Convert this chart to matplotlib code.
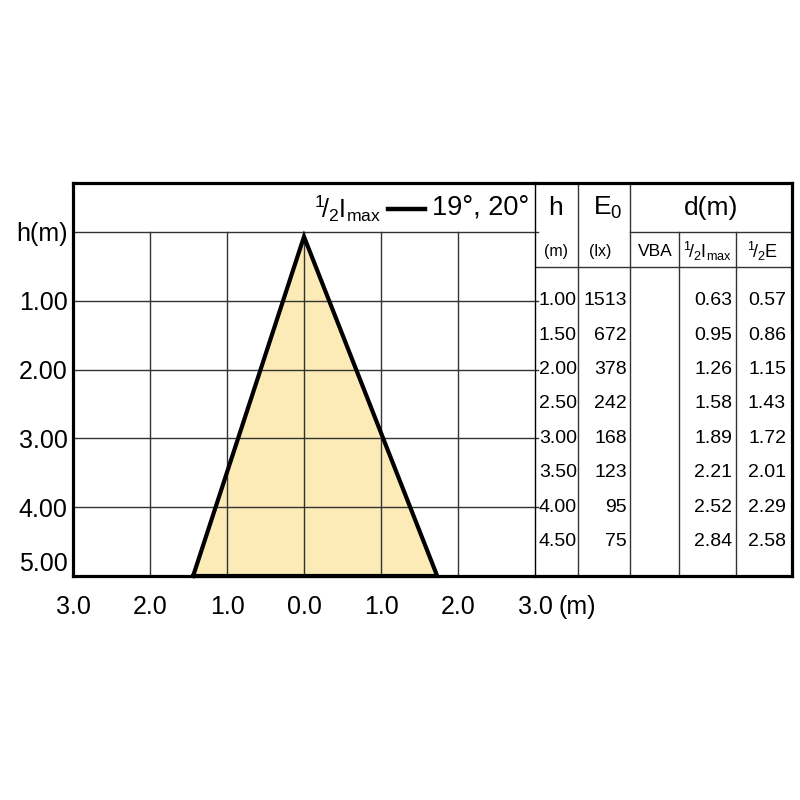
import matplotlib
matplotlib.use("Agg")
import matplotlib.pyplot as plt

plt.rcParams['font.family'] = ['Liberation Sans', 'DejaVu Sans']
plt.rcParams['mathtext.fontset'] = 'custom'
plt.rcParams['mathtext.rm'] = 'Liberation Sans'
plt.rcParams['mathtext.it'] = 'Liberation Sans:italic'
plt.rcParams['mathtext.bf'] = 'Liberation Sans:bold'

# beam outline (half Imax cone)
beam_x = [-1.44, 0.0, 1.73]
beam_h = [5.0, 0.07, 5.0]

# axis ticks
x_ticks = [-3, -2, -1, 0, 1, 2, 3]
x_labels = ['3.0', '2.0', '1.0', '0.0', '1.0', '2.0', '3.0']
y_ticks = [0, 1, 2, 3, 4, 5]
y_labels = ['h(m)', '1.00', '2.00', '3.00', '4.00', '5.00']

# table values
tab_h = [1.00, 1.50, 2.00, 2.50, 3.00, 3.50, 4.00, 4.50]
tab_e0 = [1513, 672, 378, 242, 168, 123, 95, 75]
tab_d_imax = [0.63, 0.95, 1.26, 1.58, 1.89, 2.21, 2.52, 2.84]
tab_d_e = [0.57, 0.86, 1.15, 1.43, 1.72, 2.01, 2.29, 2.58]

TOP = -0.71      # header strip above h = 0
SUB = 0.51       # line under the table sub-header
GRID = '#333333'
THICK = 2.3

fig = plt.figure(figsize=(8, 8), dpi=100)
ax = fig.add_axes([73 / 800, 224 / 800, 462 / 800, 393 / 800])
ax.set_xlim(-3, 3)
ax.set_ylim(5, TOP)

# beam fill, grid, outline
ax.fill(beam_x, beam_h, color='#fcebb6', zorder=1, lw=0)
for x in [-2, -1, 0, 1, 2]:
    ax.plot([x, x], [0, 5], color=GRID, lw=1.0, zorder=2)
for y in [0, 1, 2, 3, 4]:
    ax.plot([-3, 3.04], [y, y], color=GRID, lw=1.0, zorder=2, clip_on=False)
ax.plot(beam_x + [beam_x[0]], beam_h + [beam_h[0]], color='black', lw=3.0,
        solid_joinstyle='miter', zorder=3, clip_on=False)

ax.set_xticks(x_ticks)
ax.set_xticklabels(x_labels, fontsize=18)
ax.set_yticks(y_ticks)
ax.set_yticklabels(y_labels, fontsize=18)
ax.tick_params(axis='x', length=0, pad=14)
ax.tick_params(axis='y', length=0, pad=4)
ax.get_yticklabels()[-1].set_va('bottom')
ax.annotate('(m)', xy=(3.0, 0), xycoords=('data', 'axes fraction'),
            xytext=(17, -14), textcoords='offset points',
            ha='left', va='top', fontsize=18)

for s in ['left', 'top', 'bottom']:
    ax.spines[s].set_linewidth(THICK)
ax.spines['right'].set_visible(False)

# legend text in header strip
ax.text(1.00, -0.33, r'$^{1}\!/_{2}\mathrm{I}_{\mathrm{max}}$', fontsize=18,
        ha='right', va='center')
ax.plot([1.09, 1.57], [-0.33, -0.33], color='black', lw=3.2, clip_on=False)
ax.text(2.92, -0.35, '19°, 20°', fontsize=19.5, ha='right', va='center')

# table
at = fig.add_axes([535 / 800, 224 / 800, 257 / 800, 393 / 800])
at.set_xlim(0, 257)
at.set_ylim(5, TOP)
at.set_xticks([])
at.set_yticks([])
at.spines['left'].set_linewidth(1.0)
for s in ['top', 'right', 'bottom']:
    at.spines[s].set_linewidth(THICK)
at.set_facecolor('none')

for x in [43, 95]:
    at.plot([x, x], [TOP, 5], color=GRID, lw=1.0)
for x in [144, 201]:
    at.plot([x, x], [0, 5], color=GRID, lw=1.0)
at.plot([95, 257], [0, 0], color=GRID, lw=1.0)
at.plot([0, 257], [SUB, SUB], color=GRID, lw=1.0)

at.text(21, -0.35, 'h', fontsize=19, ha='center', va='center')
at.text(73, -0.35, r'E$_{0}$', fontsize=19, ha='center', va='center')
at.text(176, -0.35, 'd(m)', fontsize=19, ha='center', va='center')
at.text(21, 0.29, '(m)', fontsize=11.5, ha='center', va='center')
at.text(65, 0.29, '(lx)', fontsize=11.5, ha='center', va='center')
at.text(120, 0.29, 'VBA', fontsize=12.5, ha='center', va='center')
at.text(172, 0.29, r'$^{1}\!/_{2}\mathrm{I}_{\mathrm{max}}$', fontsize=13,
        ha='center', va='center')
at.text(228, 0.29, r'$^{1}\!/_{2}\mathrm{E}$', fontsize=13,
        ha='center', va='center')

for h, e, d1, d2 in zip(tab_h, tab_e0, tab_d_imax, tab_d_e):
    at.text(42, h, f'{h:.2f}', fontsize=14, ha='right', va='center')
    at.text(92, h, f'{e}', fontsize=14, ha='right', va='center')
    at.text(197, h, f'{d1:.2f}', fontsize=14, ha='right', va='center')
    at.text(251, h, f'{d2:.2f}', fontsize=14, ha='right', va='center')

fig.savefig('out.png', dpi=100, facecolor='white')
